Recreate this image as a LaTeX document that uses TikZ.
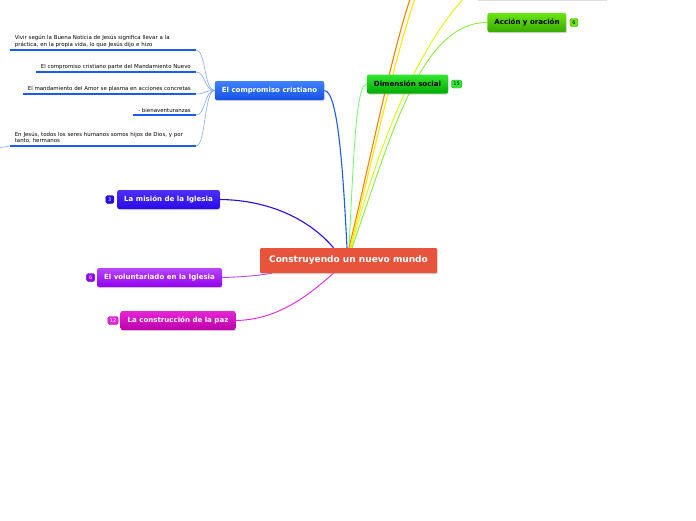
\documentclass[tikz,border=0pt]{standalone}
\usepackage{fontspec}
\setmainfont{DejaVu Sans}
\usetikzlibrary{shadows,positioning,backgrounds}

\definecolor{centralRed}{HTML}{E8543B}
\definecolor{blueTop}{HTML}{3F82FF}
\definecolor{blueBot}{HTML}{1652E6}
\definecolor{violetTop}{HTML}{4D2EFF}
\definecolor{violetBot}{HTML}{2A0AE6}
\definecolor{purpleTop}{HTML}{B547FF}
\definecolor{purpleBot}{HTML}{9300EE}
\definecolor{pinkTop}{HTML}{E626D6}
\definecolor{pinkBot}{HTML}{BB00AA}
\definecolor{greenTop}{HTML}{33E633}
\definecolor{greenBot}{HTML}{00AA00}
\definecolor{limeTop}{HTML}{6AE610}
\definecolor{limeBot}{HTML}{38AA00}
\definecolor{ulBlue}{HTML}{1A5CF0}
\definecolor{twigBlue}{HTML}{86A8FF}

\begin{document}
\begin{tikzpicture}[x=1pt,y=-1pt,
  topic/.style={rounded corners=2pt,minimum height=19pt,inner xsep=7pt,inner ysep=0pt,
    font=\bfseries\fontsize{7.05}{8}\selectfont,
    drop shadow={opacity=0.3,shadow xshift=0.6pt,shadow yshift=-1.2pt}},
  badge/.style={rounded corners=1.5pt,draw=#1!70!black,fill=#1,minimum width=8pt,
    minimum height=8pt,inner xsep=2pt,inner ysep=1pt,font=\fontsize{5}{5}\selectfont},
  item/.style={inner xsep=5pt,inner ysep=2.5pt,font=\fontsize{5.45}{6.3}\selectfont},
  underline/.style={draw=ulBlue,line width=2.4pt},
  twig/.style={draw=twigBlue,line width=0.6pt},
  branch/.style={line width=1.1pt}
]
  \useasboundingbox (0,0) rectangle (696,520);

  % Draw the central topic
  \node[fill=centralRed,text=white,font=\bfseries\fontsize{9}{10}\selectfont,
    minimum width=177pt,minimum height=25pt,rounded corners=1pt,
    drop shadow={opacity=0.3,shadow xshift=0.6pt,shadow yshift=-1.2pt}]
    (central) at (348.5,260.5) {Construyendo un nuevo mundo};

  % Draw the main topics
  \node[topic,top color=blueTop,bottom color=blueBot,text=white] (compromiso) at (269.5,90.5) {El compromiso cristiano};
  \node[topic,top color=greenTop,bottom color=greenBot] (dimension) at (407.5,84) {Dimensión social};
  \node[topic,top color=limeTop,bottom color=limeBot] (accion) at (527,22.5) {Acción y oración};
  \node[topic,top color=violetTop,bottom color=violetBot,text=white] (mision) at (168.5,199.5) {La misión de la Iglesia};
  \node[topic,top color=purpleTop,bottom color=purpleBot,text=white] (voluntariado) at (159.5,277.5) {El voluntariado en la Iglesia};
  \node[topic,top color=pinkTop,bottom color=pinkBot,text=white] (paz) at (178,320.5) {La construcción de la paz};

  % Badges
  \node[badge=greenTop,right=3pt of dimension] {15};
  \node[badge=limeTop,right=3pt of accion] {6};
  \node[badge=violetBot,text=white,left=3pt of mision] {3};
  \node[badge=purpleBot,text=white,left=2pt of voluntariado] {6};
  \node[badge=pinkTop,text=white,left=2pt of paz] {12};

  % Subtopics of El compromiso cristiano
  \node[item,anchor=south east,text width=176pt,align=left] (vivir) at (196,50)
    {Vivir según la Buena Noticia de Jesús significa llevar a la\\práctica, en la propia vida, lo que Jesús dijo e hizo};
  \node[item,anchor=south east,align=right] (parte) at (196,72)
    {El compromiso cristiano parte del Mandamiento Nuevo};
  \node[item,anchor=south east,align=right] (amor) at (196,94)
    {El mandamiento del Amor se plasma en acciones concretas};
  \node[item,anchor=south east,align=right] (bien) at (196,115)
    {- bienaventuranzas};
  \node[item,anchor=south east,text width=176pt,align=left] (hijos) at (196,146)
    {En Jesús, todos los seres humanos somos hijos de Dios, y por\\tanto, hermanos};

  \foreach \n in {vivir,parte,amor,bien,hijos}
    \draw[underline] (\n.south west) -- (\n.south east);

  \draw[twig] (compromiso.west) .. controls (204,90.5) and (206,50) .. (vivir.south east);
  \draw[twig] (compromiso.west) .. controls (204,90.5) and (206,72) .. (parte.south east);
  \draw[twig] (compromiso.west) .. controls (204,90.5) and (206,94) .. (amor.south east);
  \draw[twig] (compromiso.west) .. controls (204,90.5) and (206,115) .. (bien.south east);
  \draw[twig] (compromiso.west) .. controls (204,90.5) and (206,146) .. (hijos.south east);
  \draw[twig] (hijos.south west) -- ++(-12,2);

  % Branches from the central topic
  \begin{scope}[on background layer]
    \clip (0,0) rectangle (696,520);
    \coordinate (offOrange) at (414,-12);
    \coordinate (offYellow) at (419,-12);
    \coordinate (offLime) at (472,-10);
    \fill[gray!25] (478,-3) rectangle (607,1.2);
    \draw[branch,draw=ulBlue] ([xshift=-1.5pt]central.north) .. controls (343,170) and (338,91) .. (compromiso.east);
    \draw[line width=0.8pt,draw=green!60!white] ([xshift=0.5pt]central.north) .. controls (354,150) and (356,85) .. (dimension.west);
    \draw[branch,draw=orange] ([xshift=0.5pt]central.north) .. controls (366,180) and (394,40) .. (offOrange);
    \draw[branch,draw=yellow!90!orange] ([xshift=1.5pt]central.north) .. controls (368,180) and (398,40) .. (offYellow);
    \draw[line width=0.9pt,draw=lime!70!yellow] ([xshift=2.5pt]central.north) .. controls (380,140) and (420,40) .. (offLime);
    \draw[line width=0.9pt,draw=limeTop!80!white] ([xshift=3.5pt]central.north) .. controls (390,140) and (420,22) .. (accion.west);
    \draw[branch,draw=violetBot] (mision.east) .. controls (270,200) and (310,220) .. ([xshift=-15pt]central.north);
    \draw[line width=0.9pt,draw=purpleTop] (voluntariado.east) .. controls (245,277) and (262,275) .. ([xshift=12pt]central.south west);
    \draw[line width=0.9pt,draw=pinkTop!80!magenta] (paz.east) .. controls (280,320) and (312,292) .. ([xshift=-15pt]central.south);
  \end{scope}
\end{tikzpicture}
\end{document}
